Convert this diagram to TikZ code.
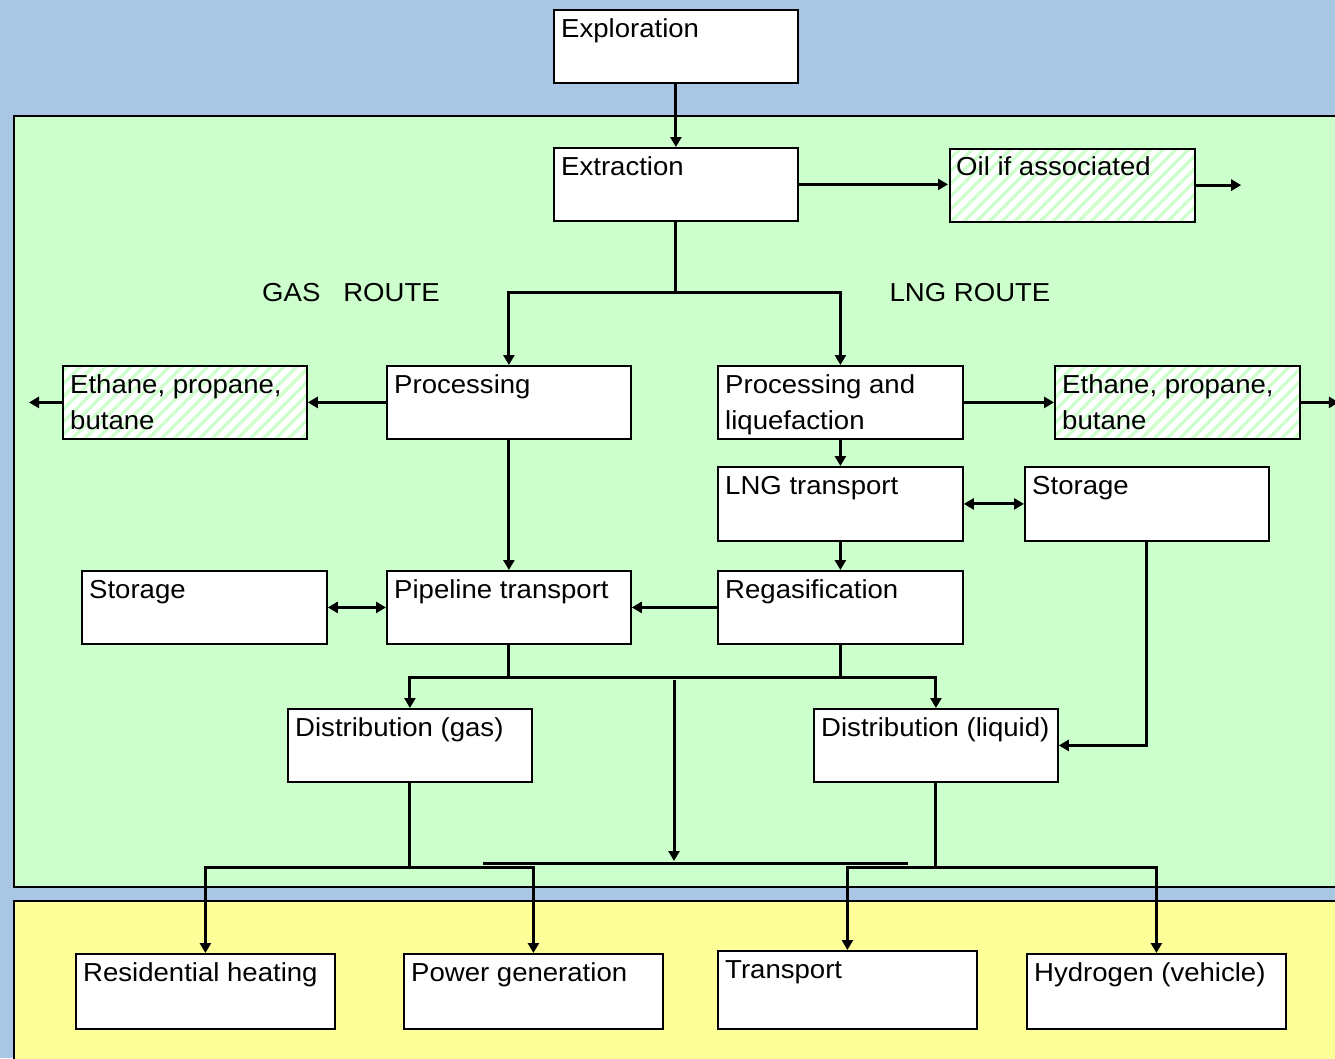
\documentclass[tikz,border=0pt]{standalone}
\usepackage{fontspec}
\setmainfont{Liberation Sans}[FakeStretch=1.06]
\usetikzlibrary{arrows.meta,patterns.meta}
\definecolor{bgblue}{HTML}{A9C7E5}
\definecolor{bggreen}{HTML}{CCFFCC}
\definecolor{bgyellow}{HTML}{FFFF99}
\tikzset{
  panel/.style={draw=black,line width=2pt},
  box/.style={draw=black,line width=1.8pt,fill=white,inner sep=0pt,anchor=north west},
  hatch/.style={preaction={fill=white},pattern={Lines[angle=45,distance=9pt,line width=3.2pt]},pattern color=bggreen},
  txt/.style={inner sep=0pt,anchor=base west,font=\fontsize{26}{36}\selectfont},
  lbl/.style={inner sep=0pt,anchor=base,font=\fontsize{26}{36}\selectfont},
  wire/.style={line width=3pt},
  conn/.style={line width=3pt,-{Triangle[length=10pt,width=11pt]}},
  conntwo/.style={line width=3pt,{Triangle[length=10pt,width=11pt]}-{Triangle[length=10pt,width=11pt]}}
}
\newcommand\mybox[7]{%
  \node[box,#6,minimum width=#4pt,minimum height=#5pt] (#1) at (#2,#3) {};
  \node[txt] (#1-t) at ([xshift=8pt,yshift=-28pt]#1.north west) {\begin{tabular}[t]{@{}l@{}}#7\end{tabular}};
}
\begin{document}
\begin{tikzpicture}[x=1pt,y=-1pt]
\useasboundingbox (0,0) rectangle (1335,1058);
\clip (0,0) rectangle (1335,1058);
\fill[bgblue] (0,0) rectangle (1335,1058);
\draw[panel,fill=bggreen] (14,116) rectangle (1350,887);
\draw[panel,fill=bgyellow] (14,901) rectangle (1350,1070);

\mybox{expl}{553}{9}{244}{73}{}{Exploration}
\mybox{extr}{553}{147}{244}{73}{}{Extraction}
\mybox{oil}{948}{147}{245}{73}{hatch}{Oil if associated}
\mybox{ethL}{62}{365}{244}{73}{hatch}{Ethane, propane,\\butane}
\mybox{proc}{386}{365}{244}{73}{}{Processing}
\mybox{procl}{717}{365}{245}{73}{}{Processing and\\liquefaction}
\mybox{ethR}{1054}{365}{245}{73}{hatch}{Ethane, propane,\\butane}
\mybox{lngt}{717}{466}{245}{74}{}{LNG transport}
\mybox{storR}{1024}{466}{244}{74}{}{Storage}
\mybox{storL}{81}{570}{245}{73}{}{Storage}
\mybox{pipe}{386}{570}{244}{73}{}{Pipeline transport}
\mybox{regas}{717}{570}{245}{73}{}{Regasification}
\mybox{distg}{287}{708}{244}{73}{}{Distribution (gas)}
\mybox{distl}{813}{708}{244}{73}{}{Distribution (liquid)}
\mybox{res}{75}{953}{259}{75}{}{Residential heating}
\mybox{pow}{403}{953}{259}{75}{}{Power generation}
\mybox{trans}{717}{950}{259}{78}{}{Transport}
\mybox{hyd}{1026}{953}{259}{75}{}{Hydrogen (vehicle)}

\node[lbl] (gasroute) at (351,301) {GAS\ \ \ ROUTE};
\node[lbl] (lngroute) at (970,301) {LNG ROUTE};

% connectors
\draw[conn] (expl.south) -- (extr.north);
\draw[conn] (extr.east) -- (extr.east -| oil.west);
\draw[conn] (oil.east) -- ++(45,0) coordinate (oilend);
\draw[wire] (extr.south) -- ++(0,71) coordinate (split);
\draw[conn] (split) -| (proc.north);
\draw[conn] (split) -| (procl.north);
\draw[conn] (proc.west) -- (ethL.east);
\draw[conn] (ethL.west) -- ++(-33,0) coordinate (ethLend);
\draw[conn] (procl.east) -- (ethR.west);
\draw[conn] (ethR.east) -- ++(38,0) coordinate (ethRend);
\draw[conn] (procl.south) -- (lngt.north);
\draw[conntwo] (lngt.east) -- (storR.west);
\draw[conn] (storR.south) |- (distl.east);
\draw[conn] (lngt.south) -- (regas.north);
\draw[conn] (regas.west) -- (pipe.east);
\draw[conntwo] (storL.east) -- (pipe.west);
\draw[conn] (proc.south) -- (pipe.north);
\draw[wire] (pipe.south) -- ++(0,33) coordinate (pj);
\draw[wire] (regas.south) -- ++(0,33) coordinate (rj);
\draw[wire] (pj) -- (rj);
\draw[conn] (pj) -| (distg.north);
\draw[conn] (rj) -| (distl.north);
\coordinate (c1) at (674,680);
\coordinate (c2) at (674,861);
\draw[conn] (c1) -- (c2);
\coordinate (h1) at (483,863);
\coordinate (h2) at (908,863);
\draw[wire] (h1) -- (h2);
\draw[wire] (distg.south) -- ++(0,85) coordinate (gj);
\draw[conn] (gj) -| (res.north);
\draw[conn] (gj) -| (pow.north);
\draw[wire] (distl.south) -- ++(0,85) coordinate (lj);
\draw[conn] (lj) -| (trans.north);
\draw[conn] (lj) -| (hyd.north);
\end{tikzpicture}
\end{document}
